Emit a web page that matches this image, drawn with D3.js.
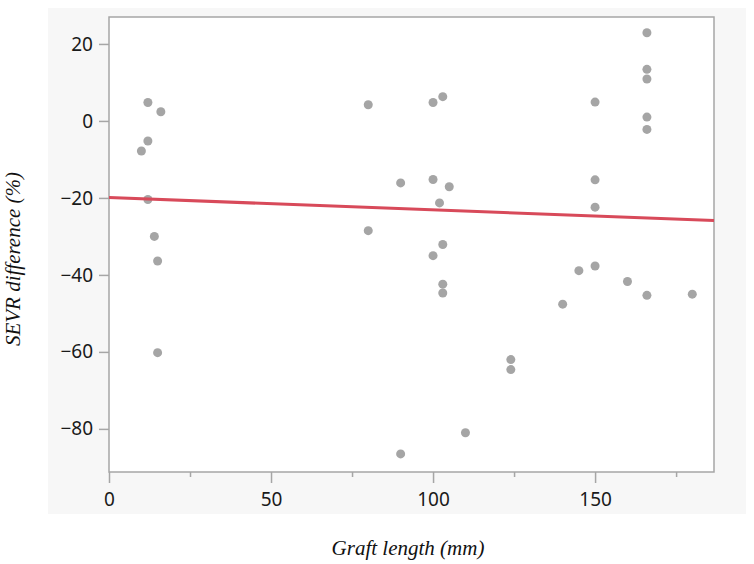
<!DOCTYPE html>
<html>
<head>
<meta charset="utf-8">
<script src="https://cdn.jsdelivr.net/npm/d3@7"></script>
<style>
  html, body { margin: 0; padding: 0; background: #ffffff; }
  svg { display: block; }
</style>
</head>
<body>
<svg id="chart" width="754" height="564"></svg>
<script>
// ---- Data ----
const graftLength = [10, 12, 12, 16, 12, 14, 15, 15,
  80, 80, 90, 90, 100, 100, 100, 102, 103, 103, 103, 103, 105, 110,
  124, 124, 140, 145, 150, 150, 150, 150, 160,
  166, 166, 166, 166, 166, 166, 180];
const sevrDiff = [-7.8, 4.8, -5.2, 2.4, -20.4, -30, -36.4, -60.2,
  4.2, -28.5, -16.1, -86.5, 4.8, -15.2, -35, -21.3, 6.3, -32.1, -42.4, -44.7, -17.1, -81,
  -62, -64.6, -47.6, -38.9, 4.9, -15.3, -22.4, -37.7, -41.7,
  22.9, 13.4, 10.9, 1.0, -2.2, -45.3, -45];
const fitIntercept = -19.9;
const fitSlope = -0.032;
const xTicks = [0, 50, 100, 150];
const xMinorTicks = [25, 75, 125, 175];
const yTicks = [20, 0, -20, -40, -60, -80];
const xDomain = [0, 186.7];
const yDomain = [-91.2, 27];
const xTitle = "Graft length (mm)";
const yTitle = "SEVR difference (%)";

// ---- Layout ----
const svg = d3.select("#chart");
const L = 109, R = 714, T = 17, B = 472;
const axisColor = "#a6a6a6";

svg.append("rect").attr("x", 48).attr("y", 8).attr("width", 698).attr("height", 506)
  .attr("fill", "#f7f7f7");
svg.append("rect").attr("x", L).attr("y", T).attr("width", R - L).attr("height", B - T)
  .attr("fill", "#ffffff").attr("stroke", axisColor).attr("stroke-width", 1.5);

const x = d3.scaleLinear().domain(xDomain).range([L, R]);
const y = d3.scaleLinear().domain(yDomain).range([B, T]);

const tickFont = "'Noto Sans', 'Open Sans', sans-serif";

// X axis major
const xAxis = svg.append("g").attr("transform", `translate(0,${B})`)
  .call(d3.axisBottom(x).tickValues(xTicks).tickSize(11).tickPadding(10).tickFormat(d3.format("d")));
xAxis.select(".domain").remove();
xAxis.selectAll("line").attr("stroke", axisColor).attr("stroke-width", 1.5);
xAxis.selectAll("text").attr("font-family", tickFont).attr("font-size", 19).attr("fill", "#1a1a1a");

// X axis minor
const xMinor = svg.append("g").attr("transform", `translate(0,${B})`)
  .call(d3.axisBottom(x).tickValues(xMinorTicks).tickSize(5).tickFormat(""));
xMinor.select(".domain").remove();
xMinor.selectAll("line").attr("stroke", axisColor).attr("stroke-width", 1.5);

// Y axis
const yAxis = svg.append("g").attr("transform", `translate(${L},0)`)
  .call(d3.axisLeft(y).tickValues(yTicks).tickSize(10).tickPadding(6)
    .tickFormat(d => d < 0 ? "\u2212" + Math.abs(d) : String(d)));
yAxis.select(".domain").remove();
yAxis.selectAll("line").attr("stroke", axisColor).attr("stroke-width", 1.5);
yAxis.selectAll("text").attr("font-family", tickFont).attr("font-size", 19).attr("fill", "#1a1a1a");

// Points
svg.append("g").selectAll("circle")
  .data(graftLength.map((g, i) => [g, sevrDiff[i]]))
  .join("circle")
  .attr("cx", d => x(d[0]))
  .attr("cy", d => y(d[1]))
  .attr("r", 4.5)
  .attr("fill", "#a5a5a5");

// Fit line
svg.append("line")
  .attr("x1", x(xDomain[0])).attr("y1", y(fitIntercept + fitSlope * xDomain[0]))
  .attr("x2", x(xDomain[1])).attr("y2", y(fitIntercept + fitSlope * xDomain[1]))
  .attr("stroke", "#d84a5a").attr("stroke-width", 3);

// Titles
svg.append("text")
  .attr("x", 408).attr("y", 555)
  .attr("text-anchor", "middle")
  .attr("font-family", "'Liberation Serif', 'DejaVu Serif', serif")
  .attr("font-style", "italic").attr("font-size", 21).attr("fill", "#111")
  .text(xTitle);

svg.append("text")
  .attr("transform", "translate(20,259) rotate(-90)")
  .attr("text-anchor", "middle")
  .attr("font-family", "'Liberation Serif', 'DejaVu Serif', serif")
  .attr("font-style", "italic").attr("font-size", 21).attr("fill", "#111")
  .text(yTitle);
</script>
</body>
</html>
